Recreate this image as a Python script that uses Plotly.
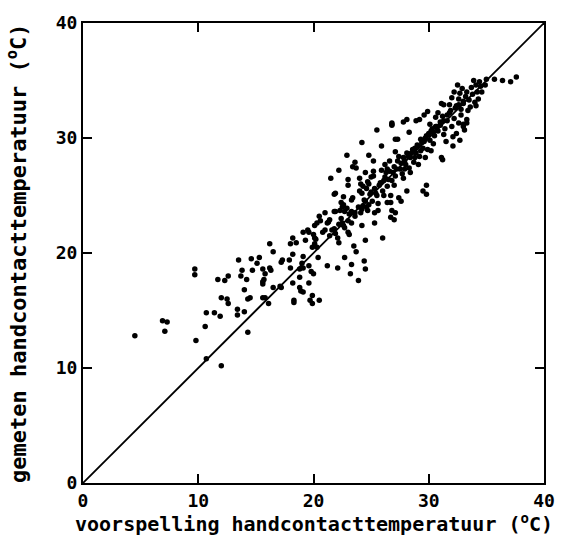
import plotly.graph_objects as go

# Voorspelde (x) en gemeten (y) handcontacttemperatuur in graden Celsius.
# Lage, verspreide waarnemingen
x_laag = [4.5, 6.9, 7.3, 7.1, 9.7, 9.7, 9.8, 10.6, 10.7, 11.4, 11.9, 11.7, 12.3, 12.0, 12.0,
          12.6, 12.6, 13.5, 14.6, 14.7, 13.8, 13.7, 14.2, 14.0, 14.3, 14.5, 13.4, 13.4, 14.0,
          14.3, 10.7, 15.3, 15.1, 15.6, 16.2, 16.3, 15.8, 15.6, 15.8, 12.5, 16.5, 16.2, 16.5,
          15.7, 15.6, 15.6, 16.1]
y_laag = [12.8, 14.1, 14.0, 13.2, 18.6, 18.1, 12.4, 13.6, 14.8, 14.8, 14.5, 17.7, 17.6, 16.1, 10.2,
          18.0, 15.6, 19.4, 19.5, 18.5, 18.5, 18.0, 17.7, 16.8, 16.0, 16.1, 15.1, 14.6, 14.9,
          13.1, 10.8, 19.6, 19.1, 18.6, 18.7, 18.5, 18.2, 17.5, 16.1, 16.0, 17.0, 20.8, 20.1,
          17.7, 17.3, 16.1, 15.6]

# Middengebied
x_midden = [17.3, 17.2, 17.9, 18.2, 18.2, 18.0, 18.5, 19.3, 19.1, 19.0, 19.1, 18.8, 18.0, 19.8,
            20.0, 18.8, 19.6, 18.2, 17.2, 18.8, 18.9, 19.1, 19.9, 19.7, 20.5, 18.3, 21.5, 21.8,
            21.0, 21.8, 21.3, 21.4, 20.1, 20.3, 19.5, 19.1, 21.0, 20.8, 20.0, 20.2, 20.1, 21.4,
            19.9, 20.3, 22.9, 24.8, 25.2, 23.6, 23.4, 23.7, 22.2, 24.5, 25.2, 25.0, 23.0, 23.0,
            24.0, 24.1, 24.8, 24.6, 24.0, 24.2, 21.9, 22.6, 22.4, 23.3, 23.4, 24.5, 24.3, 24.8,
            22.6, 22.5, 21.9, 22.3, 23.6, 23.1, 22.7, 24.2, 24.7, 25.6, 25.3, 20.5, 20.6, 21.2,
            22.5, 22.6, 21.8, 23.0, 23.1, 19.6, 20.1, 22.1, 22.2, 24.2, 25.3, 26.0, 24.5, 20.4,
            22.7, 23.5, 23.7, 24.4, 24.5, 19.6, 21.2, 22.1, 23.3, 23.2, 23.9, 17.1, 18.3, 19.9]
y_midden = [19.4, 19.2, 19.4, 19.9, 21.3, 20.8, 20.9, 21.1, 19.7, 19.1, 18.7, 18.6, 18.7, 18.4,
            18.2, 17.9, 17.4, 17.4, 17.0, 17.0, 16.7, 16.6, 16.3, 15.9, 15.9, 15.9, 26.5, 25.1,
            23.5, 23.6, 22.7, 22.9, 22.4, 22.6, 22.0, 21.8, 22.0, 21.8, 21.6, 21.2, 20.8, 21.5,
            20.5, 20.5, 28.5, 28.5, 28.0, 27.9, 27.5, 27.4, 27.2, 27.0, 27.1, 26.6, 26.4, 25.9,
            26.5, 26.0, 26.0, 25.6, 25.4, 25.2, 25.2, 24.9, 24.4, 24.6, 24.8, 24.5, 24.1, 24.2,
            24.2, 24.0, 23.6, 23.7, 23.5, 23.4, 23.6, 23.8, 23.7, 23.7, 23.5, 23.2, 22.8, 22.6,
            22.6, 22.4, 22.1, 21.8, 21.6, 21.8, 21.3, 21.3, 20.9, 22.4, 22.6, 21.3, 21.1, 19.6,
            19.6, 20.6, 20.1, 19.3, 18.6, 18.9, 18.9, 18.7, 19.0, 18.2, 17.6, 17.1, 15.7, 15.6]

# Bovengebied, verspreid
x_boven = [25.5, 26.8, 24.2, 25.9, 27.1, 27.1, 26.2, 26.4, 28.1, 26.4, 26.7, 27.4, 27.6, 29.8,
           29.5, 29.8, 26.8, 27.1, 26.7, 27.0, 35.0, 35.7, 36.4, 37.1, 37.6, 34.9, 34.5, 34.6,
           31.1, 31.3, 29.9, 29.6, 30.8, 29.2, 28.9, 28.1, 27.8, 26.8, 26.8, 28.3, 27.3, 32.1,
           31.5, 31.1, 31.2, 26.7, 33.0, 33.0, 33.3]
y_boven = [30.7, 31.2, 29.6, 29.3, 29.9, 28.8, 27.7, 27.3, 25.4, 24.4, 24.4, 24.8, 24.5, 25.9,
           25.4, 25.1, 23.7, 23.5, 23.1, 22.9, 35.1, 35.1, 35.0, 34.9, 35.3, 34.6, 34.5, 34.0,
           33.0, 32.9, 32.3, 32.0, 32.2, 31.6, 31.5, 31.6, 31.4, 31.3, 31.1, 30.5, 29.9, 29.3,
           29.7, 28.3, 28.1, 25.0, 31.2, 31.0, 31.3]

# Dichte band langs de diagonaal en de clusters rond 31-35 graden
x_dicht = [23.0, 23.3, 23.6, 23.9, 24.1, 24.4, 24.6, 24.9, 25.1, 25.3, 25.5, 25.8, 26.0, 26.2,
           26.4, 26.6, 26.8, 27.0, 27.1, 27.3, 27.5, 27.7, 27.8, 28.0, 28.1, 28.3, 28.4, 28.6,
           28.7, 28.9, 29.0, 29.2, 29.3, 29.5, 29.6, 29.8, 29.9, 30.1, 30.2, 30.4, 30.5, 30.6,
           25.9, 26.6, 26.1, 27.0, 27.8, 28.4, 29.1, 29.7, 30.2, 24.7, 24.3, 25.2, 25.6, 22.7,
           23.3, 22.4, 21.9, 22.2, 21.6, 22.9,
           32.4, 32.6, 32.7, 32.9, 33.0, 33.2, 33.3, 33.5, 33.6, 33.7, 33.8, 34.0, 34.1, 34.2,
           34.3, 32.2, 32.0, 32.8, 33.4, 34.4, 33.9, 32.5, 33.0, 34.1, 31.8,
           31.0, 31.2, 31.4, 31.6, 31.8, 32.0, 32.2, 32.4, 32.6, 32.8, 33.1, 33.3, 31.3, 32.1,
           32.7, 30.7, 30.4, 30.1, 30.6, 30.0,
           25.0, 25.4, 25.7, 26.1, 26.5, 26.9, 27.2, 27.6, 27.9, 28.2, 28.5, 28.8, 29.1, 29.4,
           29.7, 30.0, 30.3, 30.7, 31.0, 31.3, 31.6, 31.9, 32.3, 32.6, 26.3, 27.4, 28.8, 30.8,
           29.3, 27.9]
y_dicht = [22.8, 23.6, 23.2, 24.0, 23.5, 24.6, 24.0, 25.1, 24.5, 25.6, 25.0, 26.1, 25.4, 26.6,
           25.8, 27.1, 26.3, 27.5, 26.7, 28.0, 27.3, 26.9, 28.3, 27.7, 28.7, 27.4, 28.3, 29.0,
           27.9, 28.7, 29.4, 28.4, 29.9, 29.1, 29.7, 30.2, 29.0, 29.8, 30.6, 29.5, 30.2, 31.0,
           27.2, 28.0, 25.0, 25.9, 26.5, 27.0, 27.7, 28.3, 28.9, 26.2, 25.8, 26.7, 24.3, 22.2,
           22.6, 23.0, 21.7, 22.5, 22.0, 23.9,
           32.8, 33.4, 33.9, 34.3, 33.0, 33.6, 34.0, 33.3, 32.7, 34.4, 33.8, 33.1, 34.6, 34.0,
           33.4, 34.0, 33.5, 32.5, 32.4, 34.9, 35.0, 34.6, 33.2, 32.8, 32.9,
           31.4, 31.9, 30.8, 31.5, 32.2, 31.0, 31.7, 30.4, 31.3, 32.0, 30.7, 31.6, 30.3, 30.1,
           29.8, 30.9, 30.5, 31.2, 31.8, 30.3,
           25.3, 25.2, 25.9, 26.3, 26.4, 27.0, 27.3, 27.8, 28.0, 28.4, 28.7, 29.1, 29.3, 29.6,
           30.0, 30.4, 30.8, 31.0, 31.1, 31.5, 32.0, 32.4, 32.6, 32.9, 27.0, 28.4, 28.3, 30.6,
           28.9, 27.3]

voorspeld = x_laag + x_midden + x_boven + x_dicht
gemeten = y_laag + y_midden + y_boven + y_dicht

lijn = [0, 40]
ticks = [0, 10, 20, 30, 40]

MONO = "DejaVu Sans Mono"

fig = go.Figure()
fig.add_trace(go.Scatter(x=lijn, y=lijn, mode="lines",
                         line=dict(color="black", width=1.8), hoverinfo="skip"))
fig.add_trace(go.Scatter(x=voorspeld, y=gemeten, mode="markers",
                         marker=dict(color="black", size=5.5, line=dict(width=0))))

as_stijl = dict(range=[0, 40], tickvals=ticks, ticktext=[str(t) for t in ticks],
                ticks="inside", ticklen=9, tickwidth=2, tickcolor="black",
                showline=True, linewidth=2, linecolor="black", mirror="ticks",
                showgrid=False, zeroline=False,
                tickfont=dict(family=MONO, size=18, color="black", weight="bold"))
fig.update_xaxes(**as_stijl)
fig.update_yaxes(**as_stijl)

fig.update_layout(
    width=567, height=536,
    margin=dict(l=83, r=15, t=19, b=53),
    plot_bgcolor="white", paper_bgcolor="white",
    showlegend=False,
    annotations=[
        dict(text="voorspelling handcontacttemperatuur (<sup>o</sup>C)",
             xref="paper", yref="paper", x=0.5, y=0, xanchor="center", yanchor="middle",
             yshift=-40, showarrow=False,
             font=dict(family=MONO, size=20, color="black", weight="bold")),
        dict(text="gemeten handcontacttemperatuur (<sup>o</sup>C)",
             xref="paper", yref="paper", x=0, y=0.5, xanchor="center", yanchor="middle",
             xshift=-66, textangle=-90, showarrow=False,
             font=dict(family=MONO, size=22, color="black", weight="bold")),
    ],
)

fig.write_html("out.html")
